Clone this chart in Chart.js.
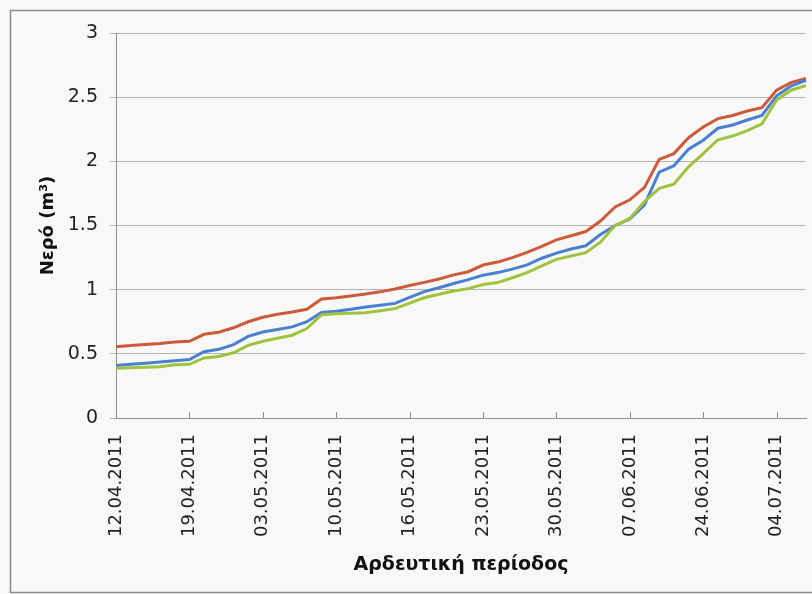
<!DOCTYPE html>
<html>
<head>
<meta charset="utf-8">
<script src="https://cdn.jsdelivr.net/npm/chart.js@4.4.0/dist/chart.umd.min.js"></script>
<style>
  body { margin: 0; background: #f8f9f6; }
  canvas { display: block; }
</style>
</head>
<body>
<canvas id="myChart" width="812" height="594"></canvas>
<script>
// dates shown on the axis, one every 5 measurements
const tickLabels = ['12.04.2011', '19.04.2011', '03.05.2011', '10.05.2011', '16.05.2011',
  '23.05.2011', '30.05.2011', '07.06.2011', '24.06.2011', '04.07.2011']
const labelEvery = 5

const redSeries = [0.555, 0.565, 0.572, 0.58, 0.592, 0.598, 0.652, 0.668, 0.703, 0.75,
  0.785, 0.808, 0.826, 0.847, 0.928, 0.937, 0.951, 0.966, 0.983, 1.005,
  1.032, 1.057, 1.083, 1.115, 1.14, 1.192, 1.215, 1.25, 1.29, 1.337,
  1.388, 1.42, 1.453, 1.535, 1.645, 1.70, 1.797, 2.015, 2.06, 2.184,
  2.268, 2.333, 2.357, 2.392, 2.418, 2.555, 2.615, 2.645]

const blueSeries = [0.41, 0.418, 0.427, 0.436, 0.447, 0.456, 0.516, 0.535, 0.572, 0.636,
  0.67, 0.69, 0.71, 0.75, 0.822, 0.832, 0.847, 0.865, 0.878, 0.893,
  0.94, 0.985, 1.015, 1.048, 1.078, 1.113, 1.133, 1.16, 1.193, 1.245,
  1.285, 1.317, 1.342, 1.43, 1.50, 1.55, 1.66, 1.915, 1.965, 2.095,
  2.165, 2.258, 2.283, 2.322, 2.357, 2.51, 2.588, 2.632]

const greenSeries = [0.388, 0.392, 0.396, 0.40, 0.414, 0.418, 0.468, 0.48, 0.508, 0.566,
  0.598, 0.622, 0.645, 0.697, 0.805, 0.813, 0.816, 0.82, 0.835, 0.852,
  0.895, 0.937, 0.964, 0.99, 1.008, 1.04, 1.055, 1.093, 1.132, 1.185,
  1.236, 1.262, 1.288, 1.37, 1.50, 1.555, 1.687, 1.79, 1.822, 1.957,
  2.06, 2.168, 2.197, 2.24, 2.292, 2.478, 2.556, 2.59]

// one category per measurement, only every 5th one has its date printed
const categories = redSeries.map((v, i) => i % labelEvery === 0 ? tickLabels[i / labelEvery] : '')

const gridColor = '#b3b3b3'
const axisColor = '#8e8e8e'
const textFont = 'DejaVu Sans, Arial, sans-serif'

// paper background + frame of the scanned figure
const paperPlugin = {
  id: 'paper',
  beforeDraw(chart) {
    const ctx = chart.ctx
    ctx.save()
    ctx.fillStyle = '#f8f9f6'
    ctx.fillRect(0, 0, chart.width, chart.height)
    ctx.strokeStyle = '#8a8a8a'
    ctx.lineWidth = 1.5
    ctx.strokeRect(10.5, 10.5, chart.width + 20, chart.height - 12)
    ctx.restore()
  }
}

// small tick marks pointing up into the plot, at each printed date
const innerTicksPlugin = {
  id: 'innerTicks',
  afterDatasetsDraw(chart) {
    const ctx = chart.ctx
    const xScale = chart.scales.x
    const bottom = chart.chartArea.bottom
    ctx.save()
    ctx.strokeStyle = axisColor
    ctx.lineWidth = 1
    categories.forEach((c, i) => {
      if (c === '') return
      const x = Math.round(xScale.getPixelForValue(i)) + 0.5
      ctx.beginPath()
      ctx.moveTo(x, bottom)
      ctx.lineTo(x, bottom - 6)
      ctx.stroke()
    })
    ctx.restore()
  }
}

const ctx = document.getElementById('myChart').getContext('2d')
const chart = new Chart(ctx, {
  type: 'line',
  data: {
    labels: categories,
    datasets: [
      {
        label: 'green',
        borderColor: '#9fc23f',
        backgroundColor: '#9fc23f',
        data: greenSeries
      }, {
        label: 'blue',
        borderColor: '#4a7fd2',
        backgroundColor: '#4a7fd2',
        data: blueSeries
      }, {
        label: 'red',
        borderColor: '#cc5a3c',
        backgroundColor: '#cc5a3c',
        data: redSeries
      }
    ]
  },
  options: {
    responsive: false,
    animation: false,
    layout: {
      padding: { left: 0, right: 6, top: 33, bottom: 0 }
    },
    elements: {
      line: { borderWidth: 3, tension: 0 },
      point: { radius: 0 }
    },
    plugins: {
      legend: { display: false },
      tooltip: { enabled: false }
    },
    scales: {
      x: {
        grid: { display: false, drawTicks: false },
        border: { display: true, color: axisColor, width: 1 },
        ticks: {
          autoSkip: false,
          minRotation: 90,
          maxRotation: 90,
          padding: 16,
          color: '#222',
          font: { family: textFont, size: 18 }
        },
        title: {
          display: true,
          text: 'Αρδευτική περίοδος',
          color: '#111',
          font: { family: textFont, size: 19, weight: 'bold' },
          padding: { top: 0, bottom: 18 }
        },
        afterFit: (scale) => {
          scale.height = 176
          scale.paddingLeft = 0
          scale.paddingRight = 0
        }
      },
      y: {
        min: 0,
        max: 3,
        ticks: {
          stepSize: 0.5,
          padding: 12,
          color: '#222',
          font: { family: textFont, size: 19 },
          callback: (v) => String(v)
        },
        grid: { color: gridColor, lineWidth: 1, tickLength: 6 },
        border: { display: true, color: axisColor, width: 1 },
        title: {
          display: true,
          text: 'Νερό (m³)',
          color: '#111',
          font: { family: textFont, size: 18, weight: 'bold' },
          padding: { top: 38, bottom: 0 }
        },
        afterFit: (scale) => {
          scale.width = 116
        }
      }
    }
  },
  plugins: [paperPlugin, innerTicksPlugin]
})
</script>
</body>
</html>
